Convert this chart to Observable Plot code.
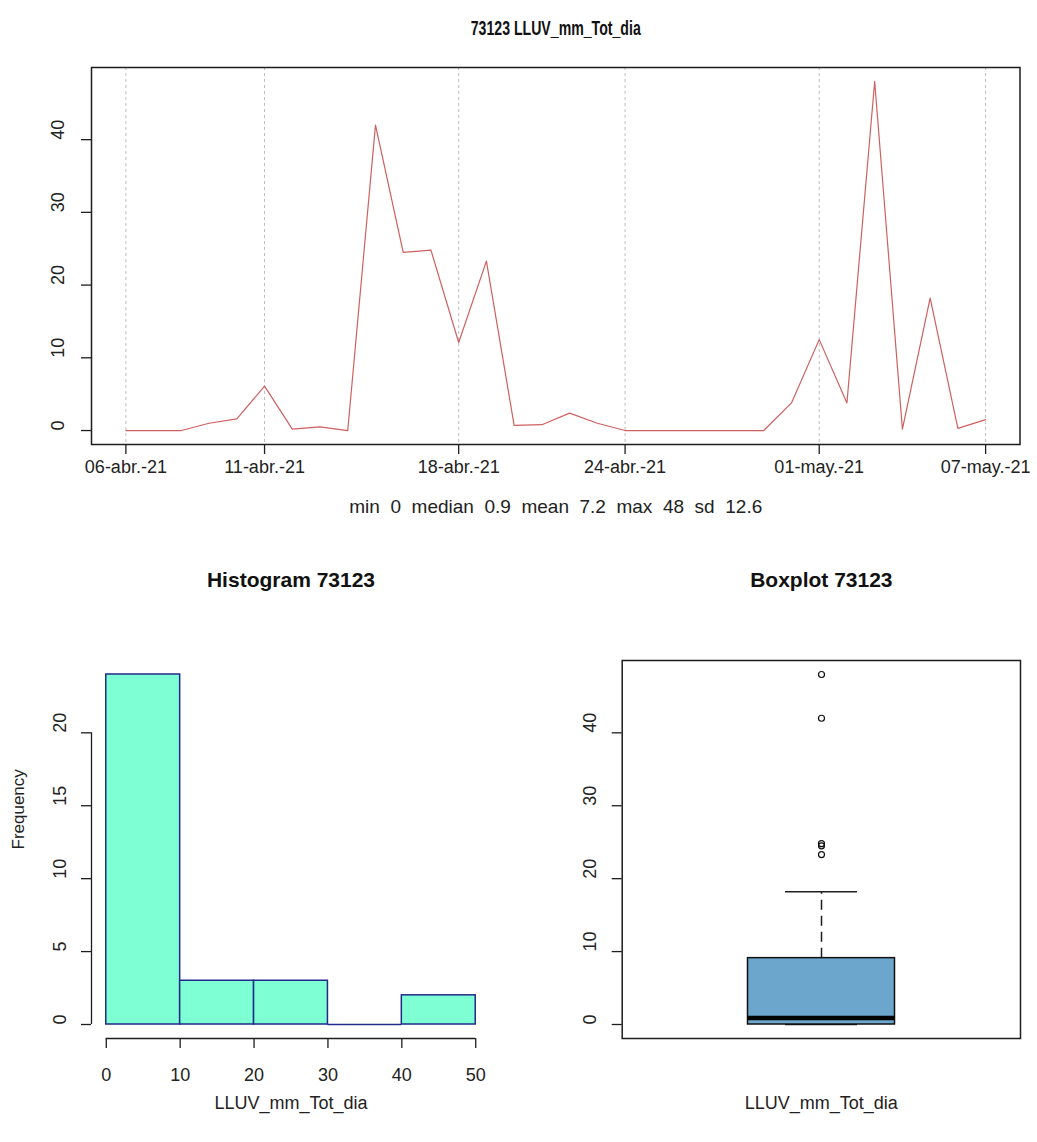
<!DOCTYPE html>
<html>
<head>
<meta charset="utf-8">
<script src="https://cdn.jsdelivr.net/npm/d3@7"></script>
<script src="https://cdn.jsdelivr.net/npm/@observablehq/plot@0.6"></script>
<style>
html, body { margin: 0; padding: 0; background: #fff; }
#root { position: relative; width: 1037px; height: 1142px; overflow: hidden; background: #fff; }
#root svg { position: absolute; overflow: visible; }
#root svg text { white-space: pre; }
</style>
</head>
<body>
<div id="root"></div>
<script>
// ---------- data ----------
const station = "73123";
const variable = "LLUV_mm_Tot_dia";
const startDate = "2021-04-06";
const dailyRain = [0, 0, 0, 1.0, 1.6, 6.1, 0.2, 0.5, 0, 42, 24.5, 24.8, 12.1, 23.3, 0.7, 0.8,
                   2.4, 1.0, 0, 0, 0, 0, 0, 0, 3.8, 12.5, 3.8, 48, 0.2, 18.2, 0.3, 1.5];
const dateTicks = ["2021-04-06", "2021-04-11", "2021-04-18", "2021-04-24", "2021-05-01", "2021-05-07"];
const dateTickLabels = ["06-abr.-21", "11-abr.-21", "18-abr.-21", "24-abr.-21", "01-may.-21", "07-may.-21"];
const seriesTicks = [0, 10, 20, 30, 40];
const histBreaks = [0, 10, 20, 30, 40, 50];
const histTicksY = [0, 5, 10, 15, 20];
const boxTicks = [0, 10, 20, 30, 40];

// ---------- helpers ----------
const FONT = '"Liberation Sans", Arial, Helvetica, sans-serif';
const INK = "#1e1e1e";
const pad = (a, b) => [a - (b - a) * 0.04, b + (b - a) * 0.04];
const r1 = v => String(Math.round(v * 10) / 10);

const series = dailyRain.map((v, i) => ({date: d3.utcDay.offset(new Date(startDate), i), value: v}));
const tickDates = dateTicks.map(d => new Date(d));
const xExt = d3.extent(series, d => +d.date);
const xDom = pad(xExt[0], xExt[1]).map(t => new Date(t));
const yDom = pad(d3.min(dailyRain), d3.max(dailyRain));

const caption = `min  ${r1(d3.min(dailyRain))}  median  ${r1(d3.median(dailyRain))}  mean  ${r1(d3.mean(dailyRain))}  max  ${r1(d3.max(dailyRain))}  sd  ${r1(d3.deviation(dailyRain))}`;

const root = document.getElementById("root");
function place(svg, left, top) {
  svg.style.left = left + "px";
  svg.style.top = top + "px";
  root.appendChild(svg);
}
const baseStyle = {fontFamily: FONT, color: INK, background: "transparent", overflow: "visible"};

// ---------- top: time series ----------
const topPlot = Plot.plot({
  width: 1037, height: 571,
  marginLeft: 91, marginRight: 17.5, marginTop: 67, marginBottom: 127,
  style: baseStyle,
  x: {type: "utc", domain: xDom, axis: null},
  y: {domain: yDom, axis: null},
  marks: [
    Plot.ruleX(tickDates, {stroke: "#bdbdbd", strokeDasharray: "3,3", strokeWidth: 1}),
    Plot.line(series, {x: "date", y: "value", stroke: "#cf6060", strokeWidth: 1.2}),
    Plot.frame({stroke: INK, strokeWidth: 1.5}),
    Plot.axisX(tickDates, {tickSize: 10, fill: "none", stroke: INK, strokeWidth: 1.3, label: null}),
    Plot.text(tickDates, {x: d => d, text: (d, i) => dateTickLabels[i], frameAnchor: "bottom", dy: 28, fontSize: 18, fill: "#222"}),
    Plot.axisY(seriesTicks, {tickSize: 10, fill: "none", stroke: INK, strokeWidth: 1.3, label: null}),
    Plot.text(seriesTicks, {y: d => d, text: d => String(d), frameAnchor: "left", dx: -33, rotate: -90, fontSize: 18, fill: "#222"}),
    Plot.text([`${station} ${variable}`], {frameAnchor: "top", dy: -47, fontSize: 21, fontWeight: "bold", fill: "#111", className: "main-title"}),
    Plot.text([caption], {frameAnchor: "bottom", dy: 68, fontSize: 19, fill: "#222"})
  ]
});
// condensed bold title, as in the reference
topPlot.querySelectorAll(".main-title text").forEach(t => {
  t.setAttribute("textLength", 170);
  t.setAttribute("lengthAdjust", "spacingAndGlyphs");
});
place(topPlot, 0, 0);

// ---------- bottom-left: histogram ----------
const bins = d3.bin().domain([histBreaks[0], histBreaks[histBreaks.length - 1]]).thresholds(histBreaks)(dailyRain)
  .map(b => ({x0: b.x0, x1: b.x1, count: b.length}));
const maxCount = d3.max(bins, b => b.count);
const hxDom = pad(histBreaks[0], histBreaks[histBreaks.length - 1]);
const hyDom = pad(0, maxCount);

const histPlot = Plot.plot({
  width: 518, height: 571,
  marginLeft: 91, marginRight: 28, marginTop: 89, marginBottom: 104,
  style: baseStyle,
  x: {domain: hxDom, axis: null},
  y: {domain: hyDom, axis: null},
  marks: [
    Plot.rectY(bins.filter(b => b.count > 0), {x1: "x0", x2: "x1", y: "count", fill: "#7fffd4", stroke: "#1f2a8a", strokeWidth: 1.5}),
    Plot.ruleY(bins.filter(b => b.count === 0), {x1: "x0", x2: "x1", y: "count", stroke: "#1f2a8a", strokeWidth: 1.5}),
    Plot.ruleY([hyDom[0]], {x1: histBreaks[0], x2: histBreaks[histBreaks.length - 1], stroke: INK, strokeWidth: 1.3}),
    Plot.axisX(histBreaks, {tickSize: 10, fill: "none", stroke: INK, strokeWidth: 1.3, label: null}),
    Plot.text(histBreaks, {x: d => d, text: d => String(d), frameAnchor: "bottom", dy: 42, fontSize: 18, fill: "#222"}),
    Plot.ruleX([hxDom[0]], {y1: histTicksY[0], y2: histTicksY[histTicksY.length - 1], stroke: INK, strokeWidth: 1.3}),
    Plot.axisY(histTicksY, {tickSize: 10, fill: "none", stroke: INK, strokeWidth: 1.3, label: null}),
    Plot.text(histTicksY, {y: d => d, text: d => String(d), frameAnchor: "left", dx: -31, rotate: -90, fontSize: 18, fill: "#222"}),
    Plot.text(["Frequency"], {frameAnchor: "left", dx: -73, rotate: -90, fontSize: 17, fill: "#222"}),
    Plot.text([variable], {frameAnchor: "bottom", dy: 70, fontSize: 18, fill: "#222"}),
    Plot.text([`Histogram ${station}`], {frameAnchor: "top", dy: -88, fontSize: 21, fontWeight: "bold", fill: "#111"})
  ]
});
place(histPlot, 0, 571);

// ---------- bottom-right: boxplot ----------
function fivenum(values) {
  const x = values.slice().sort((a, b) => a - b);
  const n = x.length;
  const n4 = Math.floor((n + 3) / 2) / 2;
  const d = [1, n4, (n + 1) / 2, n + 1 - n4, n];
  return d.map(k => 0.5 * (x[Math.floor(k) - 1] + x[Math.ceil(k) - 1]));
}
const [fMin, q1, med, q3, fMax] = fivenum(dailyRain);
const iqr = q3 - q1;
const hiLim = q3 + 1.5 * iqr, loLim = q1 - 1.5 * iqr;
const inside = dailyRain.filter(v => v >= loLim && v <= hiLim);
const stats = {q1, median: med, q3, lo: d3.min(inside), hi: d3.max(inside)};
const outliers = dailyRain.filter(v => v < loLim || v > hiLim);
const byDom = pad(d3.min(dailyRain), d3.max(dailyRain));
const boxInset = 125.5, stapleInset = 163;

const boxPlot = Plot.plot({
  width: 519, height: 571,
  marginLeft: 103.7, marginRight: 17, marginTop: 89, marginBottom: 104,
  style: baseStyle,
  x: {type: "band", domain: [variable], padding: 0, axis: null},
  y: {domain: byDom, axis: null},
  marks: [
    Plot.ruleX([stats], {x: () => variable, y1: "q3", y2: "hi", stroke: INK, strokeWidth: 1.5, strokeDasharray: "10,6"}),
    Plot.ruleX([stats], {x: () => variable, y1: "lo", y2: "q1", stroke: INK, strokeWidth: 1.5, strokeDasharray: "10,6"}),
    Plot.tickY([stats.hi, stats.lo], {x: () => variable, y: d => d, stroke: INK, strokeWidth: 1.5, insetLeft: stapleInset, insetRight: stapleInset}),
    Plot.barY([stats], {x: () => variable, y1: "q1", y2: "q3", fill: "#6ca6cd", stroke: "#111", strokeWidth: 1.5, insetLeft: boxInset, insetRight: boxInset}),
    Plot.tickY([stats], {x: () => variable, y: "median", stroke: "#000", strokeWidth: 4.5, insetLeft: boxInset, insetRight: boxInset}),
    Plot.dot(outliers, {x: () => variable, y: d => d, r: 3, fill: "none", stroke: "#111", strokeWidth: 1.2}),
    Plot.frame({stroke: INK, strokeWidth: 1.5}),
    Plot.axisY(boxTicks, {tickSize: 10, fill: "none", stroke: INK, strokeWidth: 1.3, label: null}),
    Plot.text(boxTicks, {y: d => d, text: d => String(d), frameAnchor: "left", dx: -32, rotate: -90, fontSize: 18, fill: "#222"}),
    Plot.text([variable], {frameAnchor: "bottom", dy: 70, fontSize: 18, fill: "#222"}),
    Plot.text([`Boxplot ${station}`], {frameAnchor: "top", dy: -88, fontSize: 21, fontWeight: "bold", fill: "#111"})
  ]
});
place(boxPlot, 518, 571);
</script>
</body>
</html>
